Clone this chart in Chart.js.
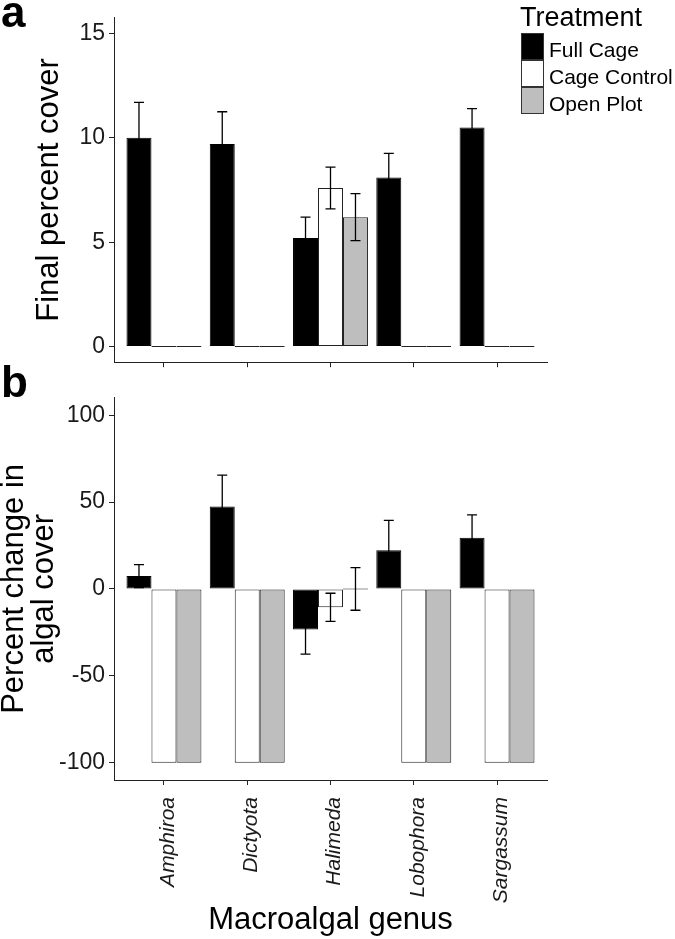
<!DOCTYPE html>
<html>
<head>
<meta charset="utf-8">
<script src="https://cdn.jsdelivr.net/npm/chart.js@4.4.1/dist/chart.umd.min.js"></script>
<style>
html,body{margin:0;padding:0;background:#fff;}
#wrap{position:relative;width:675px;height:939px;overflow:hidden;font-family:"Liberation Sans",Arial,sans-serif;color:#000;}
canvas{position:absolute;left:0;}
#c1{top:0;}
#c2{top:380px;}
.panel{position:absolute;font-weight:bold;font-size:44px;line-height:44px;}
#legend{position:absolute;left:0;top:0;}
.lgTitle{position:absolute;left:520px;top:4px;font-size:27px;line-height:27px;white-space:nowrap;}
.key{position:absolute;left:521px;width:23px;height:27px;box-sizing:border-box;border:1px solid #333;}
.lab{position:absolute;left:549px;font-size:21px;line-height:27px;white-space:nowrap;}
</style>
</head>
<body>
<div id="wrap">
  <canvas id="c1" width="675" height="380"></canvas>
  <canvas id="c2" width="675" height="559"></canvas>
  <div class="panel" style="left:1px;top:-10px;">a</div>
  <div class="panel" style="left:1px;top:360px;">b</div>
  <div id="legend"></div>
</div>
<script>
// ---- data ----
const categories = ['Amphiroa', 'Dictyota', 'Halimeda', 'Lobophora', 'Sargassum'];
const treatments = ['Full Cage', 'Cage Control', 'Open Plot'];
const legendTitle = 'Treatment';

// panel a: final percent cover (mean, SE)
const coverFullCage = [10.0, 9.7, 5.2, 8.1, 10.5];
const coverFullCageSE = [1.7, 1.55, 1.0, 1.15, 0.9];
const coverCageControl = [0, 0, 7.6, 0, 0];
const coverCageControlSE = [0, 0, 1.0, 0, 0];
const coverOpenPlot = [0, 0, 6.2, 0, 0];
const coverOpenPlotSE = [0, 0, 1.13, 0, 0];
const coverTicks = [0, 5, 10, 15];

// panel b: percent change in algal cover (mean, SE)
const changeFullCage = [7.4, 47.5, -23.3, 22.2, 29.5];
const changeFullCageSE = [6.6, 18.0, 14.2, 17.3, 13.1];
const changeCageControl = [-100, -100, -10.6, -100, -100];
const changeCageControlSE = [0, 0, 8.1, 0, 0];
const changeOpenPlot = [-100, -100, 0, -100, -100];
const changeOpenPlotSE = [0, 0, 12.3, 0, 0];
const changeTicks = [-100, -50, 0, 50, 100];

// ---- styles ----
const fills = ['#000000', '#ffffff', '#bebebe'];
const outlines = ['#000000', '#222222', '#222222'];
const axisColor = '#222';
const baseFont = '"Liberation Sans", Arial, sans-serif';

function hasFont(name) {
  const c = document.createElement('canvas').getContext('2d');
  c.font = '40px monospace';
  const a = c.measureText('AmphiroaSargassum').width;
  c.font = '40px "' + name + '", monospace';
  const b = c.measureText('AmphiroaSargassum').width;
  return Math.abs(a - b) > 0.5;
}
const narrow = hasFont('Liberation Sans Narrow');
const xTickFont = narrow
  ? { family: '"Liberation Sans Narrow", "Liberation Sans", sans-serif', size: 25, style: 'italic' }
  : { family: baseFont, size: 21, style: 'italic' };

const errorBars = {
  id: 'errorBars',
  afterDatasetsDraw(chart) {
    const ctx = chart.ctx;
    const y = chart.scales.y;
    chart.data.datasets.forEach((ds, di) => {
      const meta = chart.getDatasetMeta(di);
      meta.data.forEach((bar, i) => {
        const se = ds.errors[i];
        if (!se) return;
        const v = ds.data[i];
        const t = y.getPixelForValue(v + se);
        const b = y.getPixelForValue(v - se);
        const cap = 5;
        ctx.save();
        ctx.strokeStyle = '#000';
        ctx.lineWidth = 1.3;
        ctx.beginPath();
        ctx.moveTo(bar.x, t); ctx.lineTo(bar.x, b);
        ctx.moveTo(bar.x - cap, t); ctx.lineTo(bar.x + cap, t);
        ctx.moveTo(bar.x - cap, b); ctx.lineTo(bar.x + cap, b);
        ctx.stroke();
        ctx.restore();
      });
    });
  }
};

function makeChart(id, series, errs, yMin, yMax, yTicks, yTitle, yTitlePad, yTitleLH, showX, xAxisHeight) {
  const datasets = treatments.map((name, k) => ({
    label: name,
    data: series[k],
    errors: errs[k],
    backgroundColor: fills[k],
    borderColor: outlines[k],
    borderWidth: 1,
    borderSkipped: false,
    minBarLength: 1,
    categoryPercentage: 0.9,
    barPercentage: 1.0
  }));
  return new Chart(document.getElementById(id), {
    type: 'bar',
    data: { labels: categories.map((c, i) => i + 1), datasets },
    plugins: [errorBars],
    options: {
      responsive: false,
      animation: false,
      events: [],
      layout: { padding: { top: 13, right: 128, left: 0, bottom: 0 } },
      plugins: { legend: { display: false }, tooltip: { enabled: false } },
      scales: {
        x: {
          type: 'linear',
          min: 0.4,
          max: categories.length + 0.6,
          offset: false,
          afterBuildTicks: s => { s.ticks = categories.map((c, i) => ({ value: i + 1 })); },
          afterFit: s => { s.height = xAxisHeight; },
          ticks: {
            display: showX,
            autoSkip: false,
            maxRotation: 90,
            minRotation: 90,
            padding: 12,
            labelOffset: 4,
            color: '#1a1a1a',
            font: xTickFont,
            callback: v => categories[Math.round(v) - 1]
          },
          grid: { display: true, offset: false, drawOnChartArea: false, drawTicks: true, tickLength: 5, tickColor: axisColor, tickWidth: 1 },
          border: { display: true, color: axisColor, width: 1 },
          title: {
            display: showX,
            text: 'Macroalgal genus',
            color: '#000',
            font: { family: baseFont, size: 31 },
            padding: { top: 0, bottom: 0 }
          }
        },
        y: {
          min: yMin,
          max: yMax,
          afterBuildTicks: s => { s.ticks = yTicks.map(v => ({ value: v })); },
          afterFit: s => { s.width = 114; },
          ticks: { color: '#1a1a1a', padding: 4, font: { family: baseFont, size: 23 } },
          grid: { display: true, drawOnChartArea: false, drawTicks: true, tickLength: 5, tickColor: axisColor, tickWidth: 1 },
          border: { display: true, color: axisColor, width: 1 },
          title: {
            display: true,
            text: yTitle,
            color: '#000',
            font: { family: baseFont, size: 31, lineHeight: yTitleLH },
            padding: { top: yTitlePad, bottom: 0 }
          }
        }
      }
    }
  });
}

makeChart('c1',
  [coverFullCage, coverCageControl, coverOpenPlot],
  [coverFullCageSE, coverCageControlSE, coverOpenPlotSE],
  -0.75, 15.75, coverTicks, 'Final percent cover', 31, 1.2, false, 14);

makeChart('c2',
  [changeFullCage, changeCageControl, changeOpenPlot],
  [changeFullCageSE, changeCageControlSE, changeOpenPlotSE],
  -110, 110, changeTicks, ['Percent change in', 'algal cover'], 0, 0.95, true, 159);

// legend (HTML, built from the series names and fills)
const lg = document.getElementById('legend');
const t = document.createElement('div');
t.className = 'lgTitle'; t.textContent = legendTitle; lg.appendChild(t);
treatments.forEach((name, k) => {
  const top = 33 + k * 27;
  const key = document.createElement('div');
  key.className = 'key'; key.style.top = top + 'px'; key.style.background = fills[k];
  lg.appendChild(key);
  const lab = document.createElement('div');
  lab.className = 'lab'; lab.style.top = (top + 3) + 'px'; lab.textContent = name;
  lg.appendChild(lab);
});
</script>
</body>
</html>
